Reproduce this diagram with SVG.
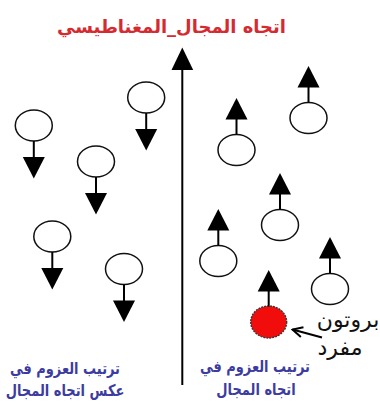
<svg xmlns="http://www.w3.org/2000/svg" width="380" height="408" viewBox="0 0 380 408">
<style>
.ring{fill:#fff;stroke:#111;stroke-width:1.5}
.red{fill:#f20d0d;stroke:#333;stroke-width:1.3;stroke-dasharray:2 1}
.stem{stroke:#000;stroke-width:2;fill:none}
.head{fill:#000}
.ar{font-family:"DejaVu Sans",sans-serif;font-weight:bold;text-anchor:middle}
.title{fill:#d42a30;font-size:18px}
.blue{fill:#3c3ca0;font-size:13px}
.blk{fill:#111;font-size:22px;font-weight:normal}
</style>
<defs>
<g id="down">
<path class="stem" d="M0 15.5V32"/>
<path class="head" d="M-11 31.5H11L0 53Z"/>
</g>
<g id="up">
<path class="stem" d="M0 -15.5V-31"/>
<path class="head" d="M-11 -30.5H11L0 -52Z"/>
</g>
<marker id="open" viewBox="0 0 12 12" refX="11" refY="6" markerWidth="12" markerHeight="12" markerUnits="userSpaceOnUse" orient="auto">
<path d="M1 1L11 6L1 11" fill="none" stroke="#000" stroke-width="2"/>
</marker>
</defs>
<rect width="380" height="408" fill="#fff"/>
<text class="ar title" x="171.5" y="33">اتجاه المجال_المغناطيسي</text>
<g id="field-axis">
<path class="stem" d="M182.3 68V385"/>
<path class="head" d="M171.5 70H193.2L182.3 47.5Z"/>
</g>
<g id="spin-down-1" transform="translate(33.8,125.5)"><ellipse class="ring" rx="18.5" ry="15.5"/><use href="#down"/></g>
<g id="spin-down-2" transform="translate(146.2,97.5)"><ellipse class="ring" rx="18.5" ry="15.5"/><use href="#down"/></g>
<g id="spin-down-3" transform="translate(96,161.5)"><ellipse class="ring" rx="18.5" ry="15.5"/><use href="#down"/></g>
<g id="spin-down-4" transform="translate(52.3,236.5)"><ellipse class="ring" rx="18.5" ry="15.5"/><use href="#down"/></g>
<g id="spin-down-5" transform="translate(124,269)"><ellipse class="ring" rx="18.5" ry="15.5"/><use href="#down"/></g>
<g id="spin-up-1" transform="translate(236.5,150)"><ellipse class="ring" rx="18.5" ry="15.5"/><use href="#up"/></g>
<g id="spin-up-2" transform="translate(308.5,118)"><ellipse class="ring" rx="18.5" ry="15.5"/><use href="#up"/></g>
<g id="spin-up-3" transform="translate(280,225)"><ellipse class="ring" rx="18.5" ry="15.5"/><use href="#up"/></g>
<g id="spin-up-4" transform="translate(218.3,261)"><ellipse class="ring" rx="18.5" ry="15.5"/><use href="#up"/></g>
<g id="spin-up-5" transform="translate(330,289)"><ellipse class="ring" rx="18.5" ry="15.5"/><use href="#up"/></g>
<g id="proton" transform="translate(268.7,322)"><ellipse class="red" rx="18" ry="16"/><use href="#up"/></g>
<g id="connectors">
<path d="M322 337.5L292.5 329.5" stroke="#000" stroke-width="2" fill="none" marker-end="url(#open)"/>
</g>
<g id="labels">
<text class="ar blk" x="348" y="327">بروتون</text>
<text class="ar blk" x="340" y="355">مفرد</text>
<text class="ar blue" transform="translate(65,374) scale(1,1.25)">ترتيب العزوم في</text>
<text class="ar blue" transform="translate(65,396) scale(1,1.25)">عكس اتجاه المجال</text>
<text class="ar blue" transform="translate(255,372) scale(1,1.25)">ترتيب العزوم في</text>
<text class="ar blue" transform="translate(256,395) scale(1,1.25)">اتجاه المجال</text>
</g>
</svg>
